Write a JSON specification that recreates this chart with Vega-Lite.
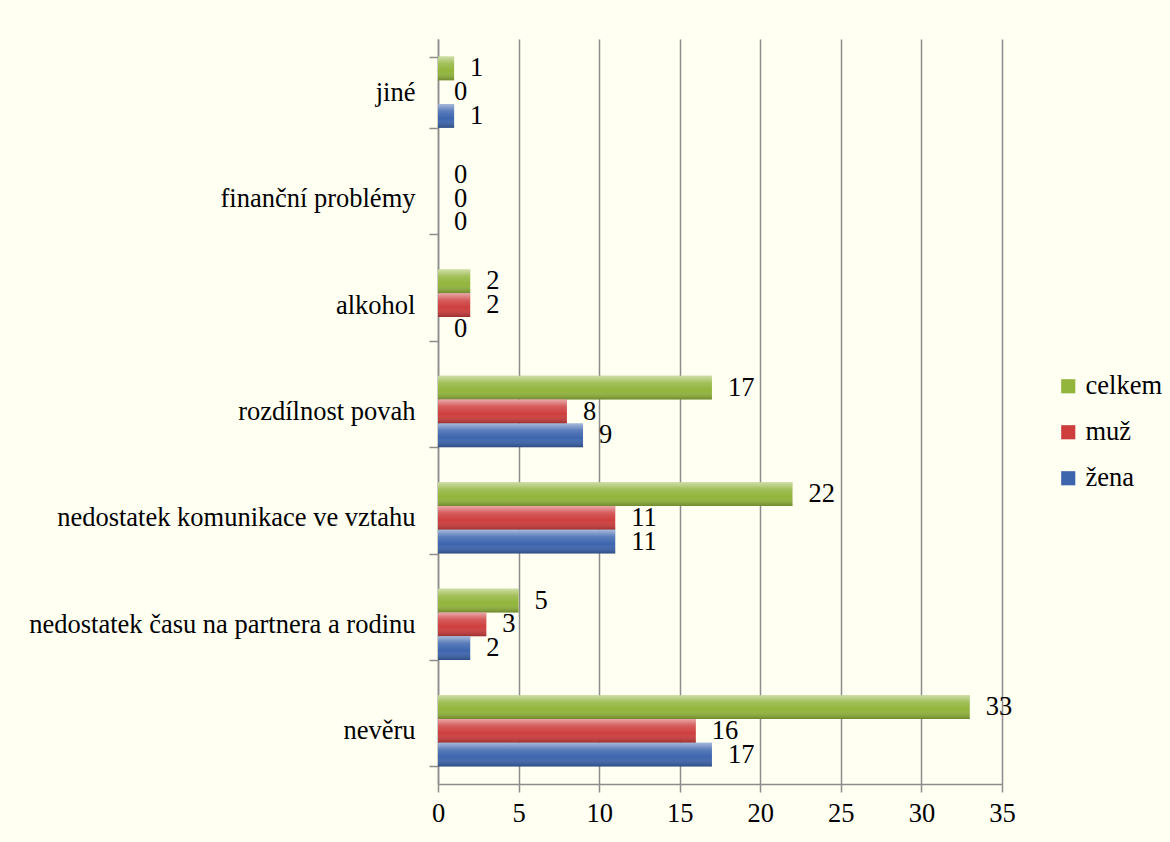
{
  "$schema": "https://vega.github.io/schema/vega-lite/v6.json",
  "autosize": {"type": "none"},
  "width": 564,
  "height": 745,
  "padding": {"left": 438, "top": 39, "right": 168, "bottom": 58},
  "background": "#FFFFF2",
  "config": {
    "view": {"stroke": null},
    "font": "Liberation Serif",
    "axis": {"labelFont": "Liberation Serif", "labelColor": "#000000", "labelFontSize": 26.5},
    "legend": {"labelFont": "Liberation Serif", "labelFontSize": 26.5, "labelColor": "#000000"}
  },
  "data": {
    "values": [
      {"kategorie": "jiné", "skupina": "celkem", "pocet": 1},
      {"kategorie": "jiné", "skupina": "muž", "pocet": 0},
      {"kategorie": "jiné", "skupina": "žena", "pocet": 1},
      {"kategorie": "finanční problémy", "skupina": "celkem", "pocet": 0},
      {"kategorie": "finanční problémy", "skupina": "muž", "pocet": 0},
      {"kategorie": "finanční problémy", "skupina": "žena", "pocet": 0},
      {"kategorie": "alkohol", "skupina": "celkem", "pocet": 2},
      {"kategorie": "alkohol", "skupina": "muž", "pocet": 2},
      {"kategorie": "alkohol", "skupina": "žena", "pocet": 0},
      {"kategorie": "rozdílnost povah", "skupina": "celkem", "pocet": 17},
      {"kategorie": "rozdílnost povah", "skupina": "muž", "pocet": 8},
      {"kategorie": "rozdílnost povah", "skupina": "žena", "pocet": 9},
      {"kategorie": "nedostatek komunikace ve vztahu", "skupina": "celkem", "pocet": 22},
      {"kategorie": "nedostatek komunikace ve vztahu", "skupina": "muž", "pocet": 11},
      {"kategorie": "nedostatek komunikace ve vztahu", "skupina": "žena", "pocet": 11},
      {"kategorie": "nedostatek času na partnera a rodinu", "skupina": "celkem", "pocet": 5},
      {"kategorie": "nedostatek času na partnera a rodinu", "skupina": "muž", "pocet": 3},
      {"kategorie": "nedostatek času na partnera a rodinu", "skupina": "žena", "pocet": 2},
      {"kategorie": "nevěru", "skupina": "celkem", "pocet": 33},
      {"kategorie": "nevěru", "skupina": "muž", "pocet": 16},
      {"kategorie": "nevěru", "skupina": "žena", "pocet": 17}
    ]
  },
  "encoding": {
    "y": {
      "field": "kategorie",
      "type": "nominal",
      "sort": ["jiné", "finanční problémy", "alkohol", "rozdílnost povah", "nedostatek komunikace ve vztahu", "nedostatek času na partnera a rodinu", "nevěru"],
      "scale": {"paddingInner": 0.33, "paddingOuter": 0.165},
      "axis": {
        "title": null,
        "tickBand": "extent",
        "tickSize": 9,
        "tickColor": "#8C8C8C",
        "tickWidth": 1.5,
        "domainColor": "#8C8C8C",
        "domainWidth": 1.5,
        "labelPadding": 14,
        "labelLimit": 500,
        "grid": false
      }
    },
    "yOffset": {
      "field": "skupina",
      "type": "nominal",
      "sort": ["celkem", "muž", "žena"],
      "scale": {"paddingInner": 0, "paddingOuter": 0}
    },
    "x": {
      "field": "pocet",
      "type": "quantitative",
      "scale": {"domain": [0, 35], "nice": false},
      "axis": {
        "title": null,
        "values": [0, 5, 10, 15, 20, 25, 30, 35],
        "grid": true,
        "gridColor": "#8C8C8C",
        "gridWidth": 1.5,
        "tickSize": 8,
        "tickColor": "#8C8C8C",
        "tickWidth": 1.5,
        "domainColor": "#8C8C8C",
        "domainWidth": 1.5,
        "labelPadding": 8,
        "labelFlush": false
      }
    }
  },
  "layer": [
    {
      "mark": {"type": "bar"},
      "encoding": {
        "color": {
          "field": "skupina",
          "type": "nominal",
          "scale": {"domain": ["celkem", "muž", "žena"], "range": ["#92B53C", "#CE3E3E", "#3D65AE"]},
          "legend": {
            "title": null,
            "orient": "none",
            "legendX": 617,
            "legendY": 334,
            "symbolType": "square",
            "symbolSize": 200,
            "symbolStrokeWidth": 0,
            "labelOffset": 4,
            "rowPadding": 19
          }
        }
      }
    },
    {
      "mark": {
        "type": "bar",
        "color": {
          "gradient": "linear",
          "x1": 0, "y1": 0, "x2": 0, "y2": 1,
          "stops": [
            {"offset": 0, "color": "rgba(255,255,255,0.55)"},
            {"offset": 0.3, "color": "rgba(255,255,255,0.15)"},
            {"offset": 0.6, "color": "rgba(255,255,255,0)"},
            {"offset": 1, "color": "rgba(0,0,0,0.25)"}
          ]
        }
      }
    },
    {
      "mark": {"type": "text", "align": "left", "baseline": "middle", "dx": 16, "fontSize": 26.5, "font": "Liberation Serif", "color": "#000000"},
      "encoding": {"text": {"field": "pocet", "type": "quantitative"}}
    }
  ]
}
